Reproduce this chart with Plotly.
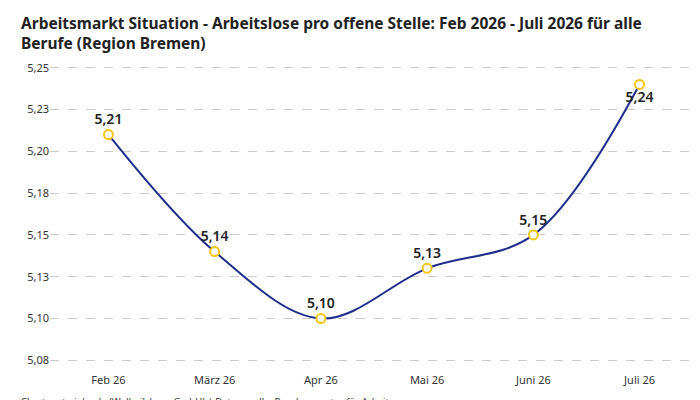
import plotly.graph_objects as go

months = ["Feb 26", "März 26", "Apr 26", "Mai 26", "Juni 26", "Juli 26"]
values = [5.21, 5.14, 5.10, 5.13, 5.15, 5.24]
labels = ["5,21", "5,14", "5,10", "5,13", "5,15", "5,24"]
tick_vals = [5.075, 5.10, 5.125, 5.15, 5.175, 5.20, 5.225, 5.25]
tick_text = ["5,08", "5,10", "5,13", "5,15", "5,18", "5,20", "5,23", "5,25"]

fig = go.Figure()
fig.add_trace(go.Scatter(
    x=months, y=values,
    mode="lines+markers+text",
    line=dict(color="#1f2d8c", width=2, shape="spline", smoothing=1.0),
    marker=dict(size=9, color="white", line=dict(color="#f5c518", width=2)),
    text=labels,
    textposition=["top center"] * 5 + ["bottom center"],
    textfont=dict(size=14, color="#222", family="Noto Sans", weight=600),
    hoverinfo="skip"
))

fig.update_layout(
    width=700, height=400,
    paper_bgcolor="white", plot_bgcolor="white",
    font=dict(family="Noto Sans", color="#333"),
    margin=dict(l=42, r=10, t=48, b=36),
    showlegend=False,
    xaxis=dict(showgrid=False, showline=False, ticks="", tickfont=dict(size=11, color="#333"),
               range=[-0.55, 5.55]),
    yaxis=dict(range=[5.068, 5.257], tickvals=tick_vals, ticktext=tick_text,
               showgrid=True, gridcolor="#cccccc", griddash="dash", zeroline=False,
               tickfont=dict(size=11, color="#333")),
    annotations=[
        dict(
            text="<b>Arbeitsmarkt Situation - Arbeitslose pro offene Stelle: Feb 2026 - Juli 2026 für alle<br>Berufe (Region Bremen)</b>",
            xref="paper", yref="paper", x=-0.048, y=1.145, xanchor="left", yanchor="top",
            align="left", showarrow=False, font=dict(size=15.5, color="#222")
        ),
        dict(
            text="Chart: gute-jobs.de (Wollmilchsau GmbH) | Datenquelle: Bundesagentur für Arbeit",
            xref="paper", yref="paper", x=-0.048, y=-0.092, xanchor="left", yanchor="middle",
            showarrow=False, font=dict(size=9.5, color="#333")
        ),
    ]
)

fig.write_html("out.html")
